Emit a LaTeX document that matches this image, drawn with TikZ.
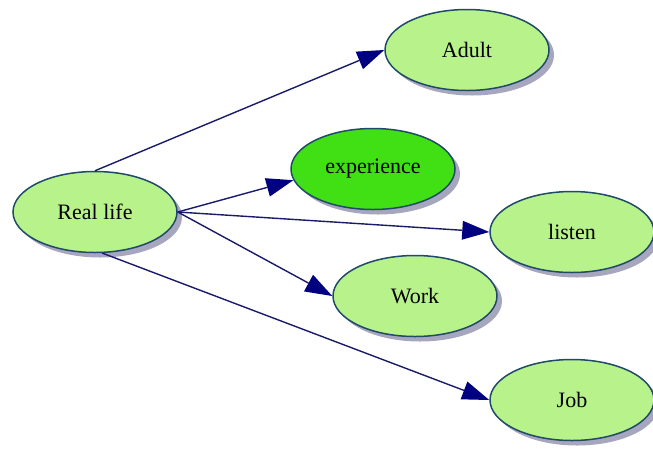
\documentclass[tikz,border=0pt]{standalone}
\usepackage{tikz}
\usepackage{fontspec}
\setmainfont{Liberation Serif}
\usetikzlibrary{arrows.meta,shapes.geometric,shadows}
\definecolor{NodeGreen}{HTML}{B8F28A}
\definecolor{NodeBright}{HTML}{40E014}
\definecolor{NodeRim}{HTML}{1F4A68}
\definecolor{EdgeNavy}{HTML}{1A1A6A}
\definecolor{TipNavy}{HTML}{000080}
\definecolor{ShadeGray}{HTML}{9C9CB8}
\tikzset{
  topic/.style={ellipse,draw=NodeRim,line width=1.5pt,fill=NodeGreen,inner sep=0pt,
    minimum width=164pt,minimum height=81pt,font=\fontsize{22}{26}\selectfont,
    drop shadow={shadow xshift=5pt,shadow yshift=-5pt,fill=ShadeGray,opacity=0.9}},
  hot/.style={topic,fill=NodeBright},
  link/.style={draw=EdgeNavy,line width=1.4pt,
    -{Triangle[length=27pt,width=19pt,color=TipNavy,fill=TipNavy,line width=0pt]}}
}
\begin{document}
\begin{tikzpicture}[x=1pt,y=-1pt]
    \useasboundingbox (0,0) rectangle (653,451);
    \node[topic] at (95, 212)  (rl)     {Real life};
    \node[topic] at (467, 50)  (adult)  {Adult};
    \node[hot]   at (373, 169) (exp)    {experience};
    \node[topic] at (572, 232) (listen) {listen};
    \node[topic] at (415, 296) (work)   {Work};
    \node[topic] at (572, 400) (job)    {Job};
    \draw [link] (rl.north) -- (adult.west);
    \draw [link] (rl.east) -- (exp.188);
    \draw [link] (rl.east) -- (listen.west);
    \draw [link] (rl.east) -- (work.west);
    \draw [link] (rl.-80) -- (job.west);
  \end{tikzpicture}
\end{document}
